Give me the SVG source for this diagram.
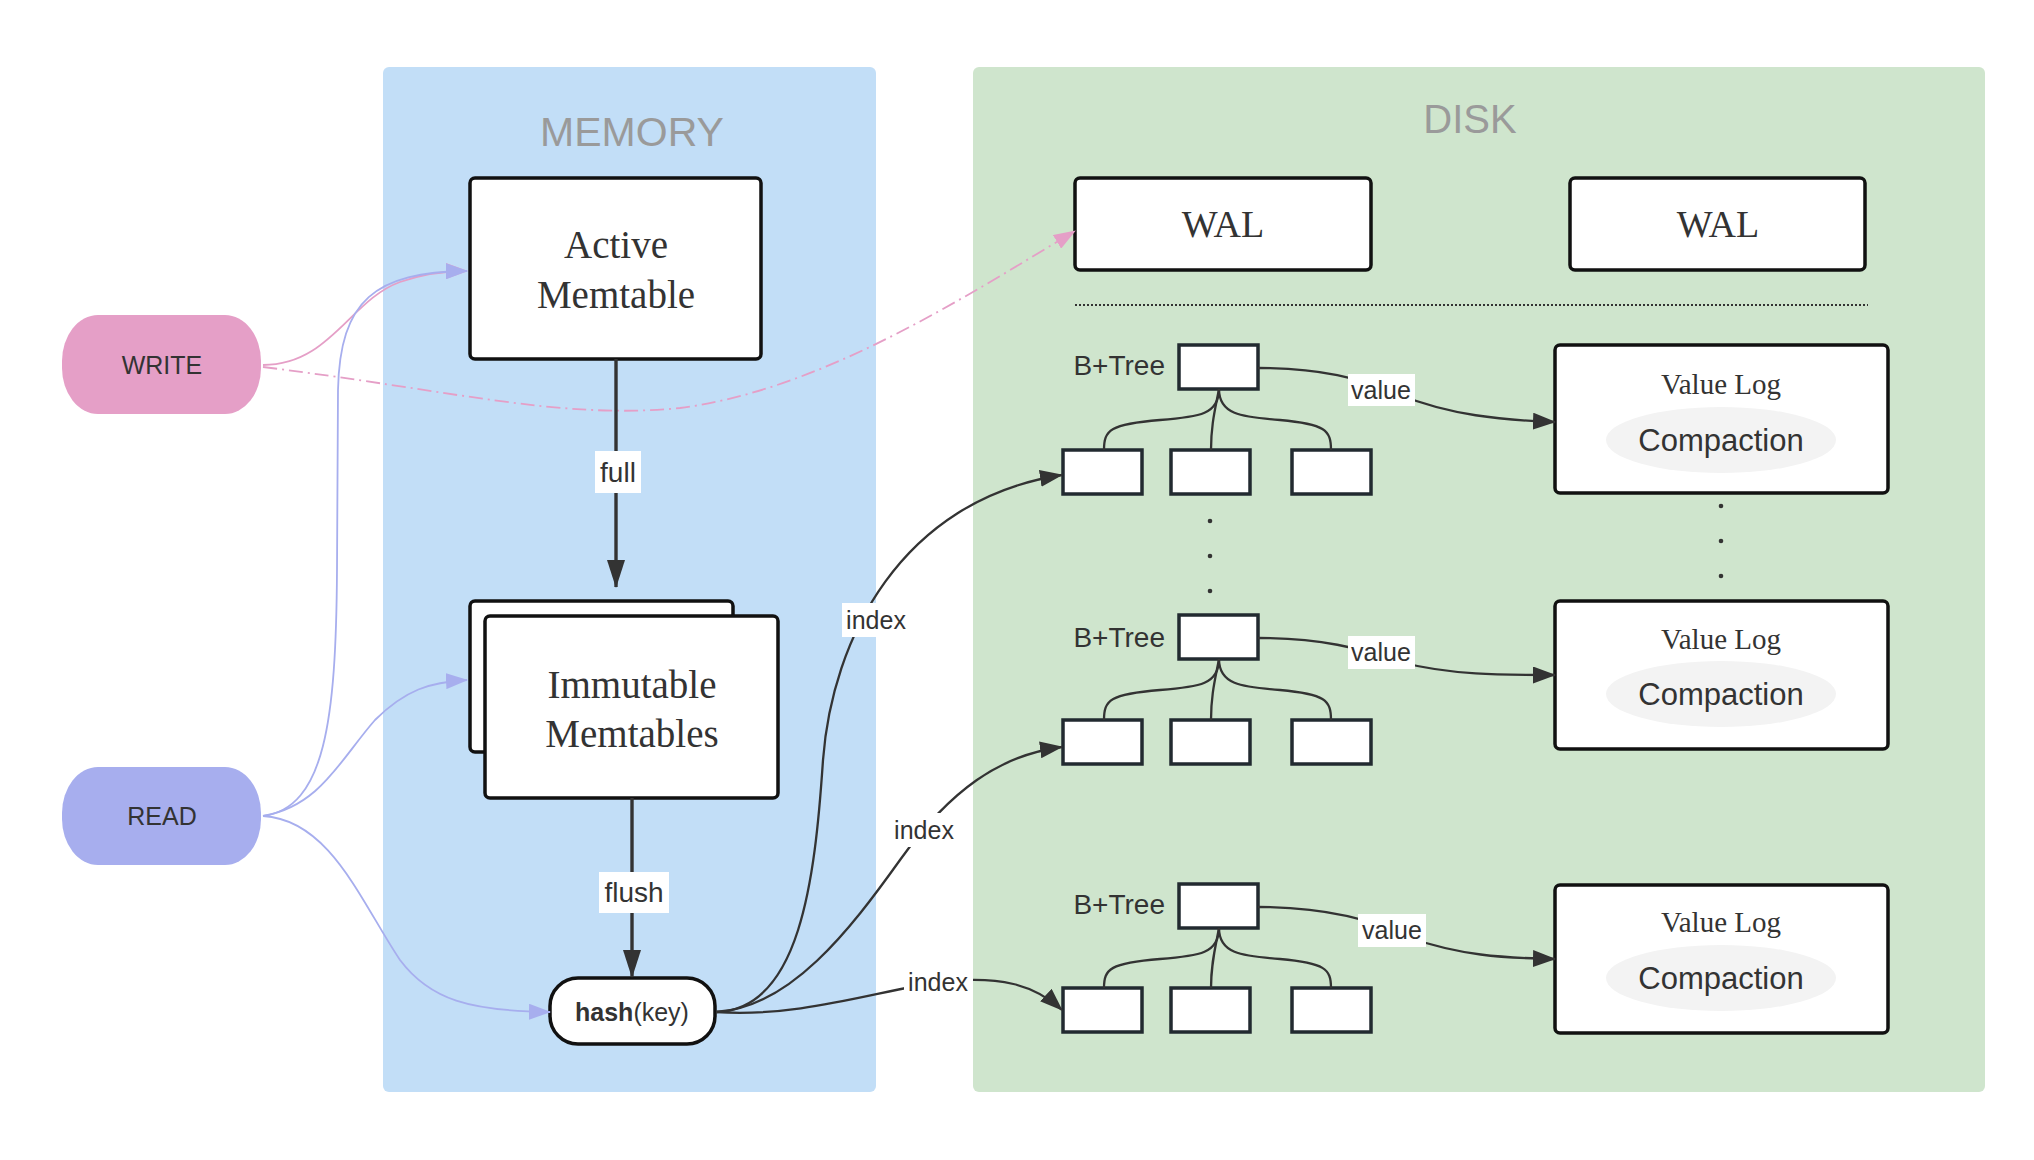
<svg xmlns="http://www.w3.org/2000/svg" width="2034" height="1160" viewBox="0 0 2034 1160">
<defs>
<style>
.panel{stroke:none}
.box{fill:#fff;stroke:#111;stroke-width:3.5}
.tbox{fill:#fff;stroke:#222a30;stroke-width:3.5}
.serif{font-family:"Liberation Serif","Times New Roman",serif;fill:#333;text-anchor:middle;dominant-baseline:central}
.sans{font-family:"Liberation Sans",Arial,sans-serif;fill:#333;text-anchor:middle;dominant-baseline:central}
.title{font-family:"Liberation Sans",Arial,sans-serif;fill:#9a9a9a;text-anchor:middle;dominant-baseline:central}
.lbl{font-size:25px}
.lblbg{fill:#fff}
.edge{fill:none;stroke:#333;stroke-width:2.3}
.thick{fill:none;stroke:#333;stroke-width:3.4}
.tree{fill:none;stroke:#333;stroke-width:2.3}
.read{fill:none;stroke:#a7aeee;stroke-width:1.8}
.write{fill:none;stroke:#e59fc7;stroke-width:1.8}
.dot{fill:#333}
</style>
<marker id="ad" viewBox="0 0 23 17" refX="22" refY="8.5" markerWidth="23" markerHeight="17" orient="auto" markerUnits="userSpaceOnUse"><path d="M0,0 L23,8.5 L0,17 z" fill="#333"/></marker>
<marker id="at" viewBox="0 0 28 18" refX="27" refY="9" markerWidth="28" markerHeight="18" orient="auto" markerUnits="userSpaceOnUse"><path d="M0,0 L28,9 L0,18 z" fill="#333"/></marker>
<marker id="ab" viewBox="0 0 22 16" refX="21" refY="8" markerWidth="22" markerHeight="16" orient="auto" markerUnits="userSpaceOnUse"><path d="M0,0 L22,8 L0,16 z" fill="#a7aeee"/></marker>
<marker id="ap" viewBox="0 0 22 16" refX="21" refY="8" markerWidth="22" markerHeight="16" orient="auto" markerUnits="userSpaceOnUse"><path d="M0,0 L22,8 L0,16 z" fill="#e59fc7"/></marker>
</defs>
<rect width="2034" height="1160" fill="#fff"/>

<g id="memory-panel">
<rect class="panel" x="383" y="67" width="493" height="1025" rx="6" fill="#c2def7"/>
<text class="title" x="632" y="132" font-size="41">MEMORY</text>
</g>
<g id="disk-panel">
<rect class="panel" x="973" y="67" width="1012" height="1025" rx="6" fill="#cfe5cd"/>
<text class="title" x="1470" y="119" font-size="40">DISK</text>
<line x1="1075" y1="305" x2="1868" y2="305" stroke="#333" stroke-width="2" stroke-dasharray="2,2"/>
</g>

<g id="write">
<rect x="62" y="315" width="199" height="99" rx="36" ry="46" fill="#e59fc7"/>
<text class="sans" x="162" y="365" font-size="25">WRITE</text>
</g>
<g id="read">
<rect x="62" y="767" width="199" height="98" rx="36" ry="46" fill="#a7aeee"/>
<text class="sans" x="162" y="816" font-size="25">READ</text>
</g>

<g id="active-memtable">
<rect class="box" x="470" y="178" width="291" height="181" rx="5"/>
<text class="serif" x="616" y="244" font-size="39">Active</text>
<text class="serif" x="616" y="294" font-size="39">Memtable</text>
</g>

<g id="immutable-memtables">
<rect class="box" x="470" y="601" width="263" height="151" rx="5"/>
<rect class="box" x="485" y="616" width="293" height="182" rx="5"/>
<text class="serif" x="632" y="684" font-size="39">Immutable</text>
<text class="serif" x="632" y="733" font-size="39">Memtables</text>
</g>

<g id="hash-key">
<rect class="box" x="550" y="978" width="165" height="66" rx="28" stroke="#222a30"/>
<text class="sans" x="632" y="1012" font-size="25"><tspan font-weight="bold">hash</tspan>(key)</text>
</g>

<g id="wal-1">
<rect class="box" x="1075" y="178" width="296" height="92" rx="5"/>
<text class="serif" x="1223" y="224" font-size="38">WAL</text>
</g>
<g id="wal-2">
<rect class="box" x="1570" y="178" width="295" height="92" rx="5"/>
<text class="serif" x="1718" y="224" font-size="38">WAL</text>
</g>

<g id="btree-1">
<text class="sans" x="1165" y="365" font-size="28" style="text-anchor:end">B+Tree</text>
<rect class="tbox" x="1179" y="345" width="79" height="44"/>
<rect class="tbox" x="1063" y="450" width="79" height="44"/>
<rect class="tbox" x="1171" y="450" width="79" height="44"/>
<rect class="tbox" x="1292" y="450" width="79" height="44"/>
<path class="tree" d="M1219,389 C1219,414 1200,417 1160,420 C1110,424 1104,430 1104,450"/>
<path class="tree" d="M1219,389 C1215,410 1211,425 1211,450"/>
<path class="tree" d="M1219,389 C1219,414 1240,417 1280,420 C1325,424 1331,430 1331,450"/>
</g>
<g id="btree-2">
<text class="sans" x="1165" y="637" font-size="28" style="text-anchor:end">B+Tree</text>
<rect class="tbox" x="1179" y="615" width="79" height="44"/>
<rect class="tbox" x="1063" y="720" width="79" height="44"/>
<rect class="tbox" x="1171" y="720" width="79" height="44"/>
<rect class="tbox" x="1292" y="720" width="79" height="44"/>
<path class="tree" d="M1219,659 C1219,684 1200,687 1160,690 C1110,694 1104,700 1104,720"/>
<path class="tree" d="M1219,659 C1215,680 1211,695 1211,720"/>
<path class="tree" d="M1219,659 C1219,684 1240,687 1280,690 C1325,694 1331,700 1331,720"/>
</g>
<g id="btree-3">
<text class="sans" x="1165" y="904" font-size="28" style="text-anchor:end">B+Tree</text>
<rect class="tbox" x="1179" y="884" width="79" height="44"/>
<rect class="tbox" x="1063" y="988" width="79" height="44"/>
<rect class="tbox" x="1171" y="988" width="79" height="44"/>
<rect class="tbox" x="1292" y="988" width="79" height="44"/>
<path class="tree" d="M1219,928 C1219,953 1200,956 1160,959 C1110,963 1104,969 1104,988"/>
<path class="tree" d="M1219,928 C1215,949 1211,964 1211,988"/>
<path class="tree" d="M1219,928 C1219,953 1240,956 1280,959 C1325,963 1331,969 1331,988"/>
</g>

<g id="dots">
<circle class="dot" cx="1210" cy="521" r="2.3"/>
<circle class="dot" cx="1210" cy="556" r="2.3"/>
<circle class="dot" cx="1210" cy="591" r="2.3"/>
<circle class="dot" cx="1721" cy="506" r="2.3"/>
<circle class="dot" cx="1721" cy="541" r="2.3"/>
<circle class="dot" cx="1721" cy="576" r="2.3"/>
</g>

<g id="value-log-1">
<rect class="box" x="1555" y="345" width="333" height="148" rx="5"/>
<text class="serif" x="1721" y="384" font-size="29">Value Log</text>
<ellipse cx="1721" cy="440" rx="115" ry="33" fill="#f3f3f3"/>
<text class="sans" x="1721" y="440" font-size="31">Compaction</text>
</g>
<g id="value-log-2">
<rect class="box" x="1555" y="601" width="333" height="148" rx="5"/>
<text class="serif" x="1721" y="639" font-size="29">Value Log</text>
<ellipse cx="1721" cy="694" rx="115" ry="33" fill="#f3f3f3"/>
<text class="sans" x="1721" y="694" font-size="31">Compaction</text>
</g>
<g id="value-log-3">
<rect class="box" x="1555" y="885" width="333" height="148" rx="5"/>
<text class="serif" x="1721" y="922" font-size="29">Value Log</text>
<ellipse cx="1721" cy="978" rx="115" ry="33" fill="#f3f3f3"/>
<text class="sans" x="1721" y="978" font-size="31">Compaction</text>
</g>

<g id="connectors">
<path class="write" d="M263,365 C330,365 350,300 400,282 C425,273 445,271 467,271" marker-end="url(#ap)"/>
<path class="write" d="M263,367 C450,390 560,420 680,408 C820,390 960,300 1075,231" stroke-dasharray="14,5,2,5" marker-end="url(#ap)"/>
<path class="read" d="M263,816 C325,808 336,720 337,570 L338,390 C340,300 375,272 467,271" marker-end="url(#ab)"/>
<path class="read" d="M263,816 C320,806 340,760 375,720 C405,690 430,682 467,680" marker-end="url(#ab)"/>
<path class="read" d="M263,816 C330,820 360,900 400,960 C430,1000 470,1011 550,1012" marker-end="url(#ab)"/>

<path class="thick" d="M616,359 L616,587" marker-end="url(#at)"/>
<rect class="lblbg" x="595" y="451" width="46" height="42"/>
<text class="sans" x="618" y="472" font-size="28">full</text>

<path class="thick" d="M632,798 L632,977" marker-end="url(#at)"/>
<rect class="lblbg" x="599" y="872" width="70" height="41"/>
<text class="sans" x="634" y="892" font-size="28">flush</text>

<path class="edge" d="M716,1012 C800,1010 815,880 823,760 C832,640 900,500 1062,475" marker-end="url(#ad)"/>
<rect class="lblbg" x="842" y="603" width="69" height="34"/>
<text class="sans lbl" x="876" y="620">index</text>

<path class="edge" d="M716,1012 C790,1008 850,930 900,860 C950,790 1000,755 1062,747" marker-end="url(#ad)"/>
<rect class="lblbg" x="890" y="813" width="69" height="34"/>
<text class="sans lbl" x="924" y="830">index</text>

<path class="edge" d="M716,1012 C800,1018 880,990 940,982 C1000,975 1035,985 1062,1010" marker-end="url(#ad)"/>
<rect class="lblbg" x="904" y="966" width="69" height="33"/>
<text class="sans lbl" x="938" y="982">index</text>

<path class="edge" d="M1258,368 C1320,368 1360,378 1400,395 C1450,415 1500,420 1555,422" marker-end="url(#ad)"/>
<rect class="lblbg" x="1348" y="374" width="67" height="32"/>
<text class="sans lbl" x="1381" y="390">value</text>

<path class="edge" d="M1258,638 C1320,638 1360,648 1400,662 C1450,675 1500,675 1555,675" marker-end="url(#ad)"/>
<rect class="lblbg" x="1348" y="636" width="67" height="33"/>
<text class="sans lbl" x="1381" y="652">value</text>

<path class="edge" d="M1258,907 C1320,907 1370,918 1410,938 C1460,955 1500,958 1555,959" marker-end="url(#ad)"/>
<rect class="lblbg" x="1358" y="914" width="68" height="33"/>
<text class="sans lbl" x="1392" y="930">value</text>
</g>
</svg>
